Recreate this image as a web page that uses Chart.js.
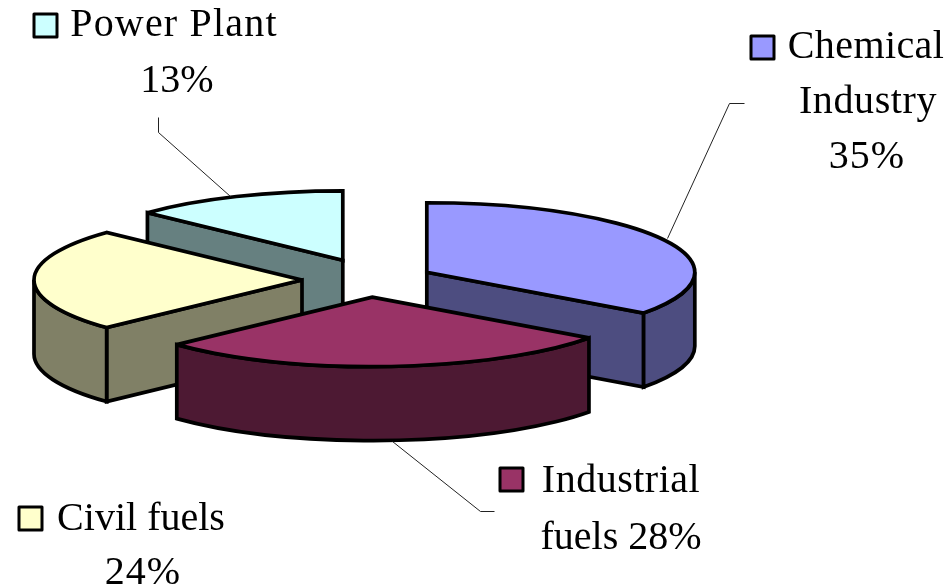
<!DOCTYPE html>
<html>
<head>
<meta charset="utf-8">
<script src="https://cdn.jsdelivr.net/npm/chart.js@4/dist/chart.umd.min.js"></script>
<style>html,body{margin:0;padding:0;background:#fff}canvas{display:block}</style>
</head>
<body>
<canvas id="c" width="950" height="588"></canvas>
<script>
const categories = ['Chemical Industry', 'Industrial fuels', 'Civil fuels', 'Power Plant'];
const shares = [35, 28, 24, 13];
const topColors = ['#9999FF', '#993366', '#FFFFCC', '#CCFFFF'];
const wallColors = ['#4D4D80', '#4D1933', '#808066', '#668080'];

const TILT = 69.5 / 268, DEPTH = 74, BORDER = 3.7;
const drawOrder = [3, 0, 2, 1];
const nudges = [[0, 0], [0, 0], [0, 0], [1, -4]];

const labels = [
  { i: 0, key: [751, 36], lines: [['Chemical', 866, 58, 0.4], ['Industry', 868, 113, 0.6], ['35%', 867, 168, 1]],
    leader: [[744, 103], [729, 103], [667, 238]] },
  { i: 1, key: [500, 468], lines: [['Industrial', 621, 492, 0.5], ['fuels 28%', 621, 549, 0, 165]],
    leader: [[392, 441], [480, 511], [494, 511]] },
  { i: 2, key: [19, 507], lines: [['Civil fuels', 141, 530, 0], ['24%', 143, 584, 1]], leader: null },
  { i: 3, key: [34, 14], lines: [['Power Plant', 174, 36, 1.2], ['13%', 177, 92, 0]],
    leader: [[158, 117], [158, 132], [230, 196]] }
];

const pie3d = {
  id: 'pie3d',
  beforeDatasetsDraw(chart) {
    const ctx = chart.ctx, arcs = chart.getDatasetMeta(0).data;
    ctx.save();
    ctx.lineWidth = BORDER; ctx.lineJoin = 'miter'; ctx.miterLimit = 3; ctx.strokeStyle = '#000';
    const K = TILT;
    for (const idx of drawOrder) {
      const a = arcs[idx], R = a.outerRadius, s = a.startAngle, e = a.endAngle;
      const mid = (s + e) / 2, d = a.options.offset / 4;
      const ax = a.x + Math.cos(mid) * d + nudges[idx][0];
      const ay = a.y + Math.sin(mid) * d * K + nudges[idx][1];
      const pt = (t) => [ax + Math.cos(t) * R, ay + Math.sin(t) * R * K];
      const wall = (t) => {
        const p = pt(t);
        ctx.beginPath(); ctx.moveTo(ax, ay); ctx.lineTo(p[0], p[1]);
        ctx.lineTo(p[0], p[1] + DEPTH); ctx.lineTo(ax, ay + DEPTH); ctx.closePath();
        ctx.fillStyle = wallColors[idx]; ctx.fill(); ctx.stroke();
      };
      // radial walls that face the viewer
      if (Math.sin(s - Math.PI / 2) > 0) wall(s);
      if (Math.sin(e + Math.PI / 2) > 0) wall(e);
      // the visible part of the curved rim
      const TAU = Math.PI * 2;
      const norm = (v) => ((v % TAU) + TAU) % TAU;
      const ns = norm(s), span = e - s;
      let from = null, to = null;
      for (const [u, v] of [[0, Math.PI], [TAU, TAU + Math.PI]]) {
        const f = Math.max(ns, u), g = Math.min(ns + span, v);
        if (g > f) { from = f; to = g; break; }
      }
      if (from !== null) {
        ctx.beginPath();
        ctx.ellipse(ax, ay, R, R * K, 0, from, to);
        ctx.ellipse(ax, ay + DEPTH, R, R * K, 0, to, from, true);
        ctx.closePath();
        ctx.fillStyle = wallColors[idx]; ctx.fill(); ctx.stroke();
      }
      // top face
      ctx.beginPath(); ctx.moveTo(ax, ay);
      ctx.ellipse(ax, ay, R, R * K, 0, s, e);
      ctx.closePath();
      ctx.fillStyle = a.options.backgroundColor; ctx.fill(); ctx.stroke();
    }
    ctx.restore();
    return false;
  },
  afterDraw(chart) {
    const ctx = chart.ctx;
    ctx.save();
    for (const l of labels) {
      if (l.leader) {
        ctx.beginPath(); ctx.lineWidth = 1; ctx.strokeStyle = '#222';
        l.leader.forEach((p, n) => n ? ctx.lineTo(p[0] + .5, p[1] + .5) : ctx.moveTo(p[0] + .5, p[1] + .5));
        ctx.stroke();
      }
      ctx.fillStyle = topColors[l.i]; ctx.strokeStyle = '#000'; ctx.lineWidth = 3; ctx.lineJoin = 'round';
      ctx.fillRect(l.key[0], l.key[1], 23, 23); ctx.strokeRect(l.key[0], l.key[1], 23, 23);
      ctx.fillStyle = '#000'; ctx.font = '40px "Liberation Serif"';
      ctx.textAlign = 'center'; ctx.textBaseline = 'alphabetic';
      for (const [t, x, y, sp, mw] of l.lines) {
        ctx.letterSpacing = (sp || 0) + 'px';
        if (mw) ctx.fillText(t, x, y, mw); else ctx.fillText(t, x, y);
      }
    }
    ctx.restore();
  }
};

new Chart(document.getElementById('c'), {
  type: 'pie',
  data: {
    labels: categories,
    datasets: [{ data: shares, backgroundColor: topColors, offset: 264, borderWidth: 0, hoverOffset: 264 }]
  },
  options: {
    responsive: false,
    animation: false,
    radius: 268,
    layout: { padding: { left: 0, right: 214, top: 0, bottom: 28 } },
    plugins: { legend: { display: false }, tooltip: { enabled: false } }
  },
  plugins: [pie3d]
});
</script>
</body>
</html>
